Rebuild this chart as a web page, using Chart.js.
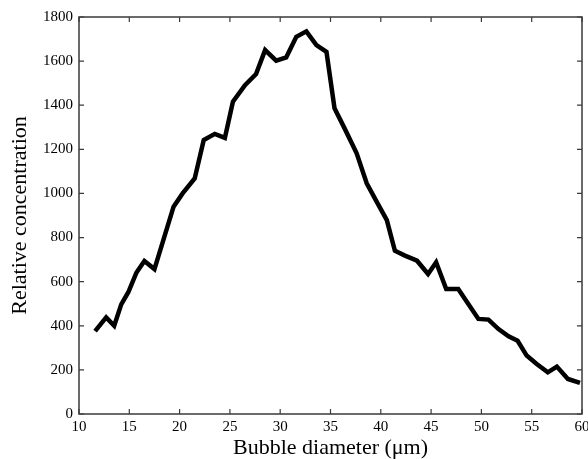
<!DOCTYPE html>
<html>
<head>
<meta charset="utf-8">
<script src="https://cdn.jsdelivr.net/npm/chart.js@4/dist/chart.umd.min.js"></script>
<style>
  html, body { margin: 0; padding: 0; background: #fff; }
  #wrap { width: 588px; height: 459px; }
</style>
</head>
<body>
<div id="wrap"><canvas id="chart" width="588" height="459"></canvas></div>
<script>
// bubble size distribution
const diameters = [11.6, 12.7, 13.5, 14.2, 14.9, 15.7, 16.5, 17.5, 19.4, 20.3,
  21.5, 22.4, 23.5, 24.5, 25.3, 26.5, 27.6, 28.5, 29.6, 30.6,
  31.6, 32.6, 33.6, 34.6, 35.4, 36.4, 37.6, 38.6, 39.6, 40.6,
  41.4, 42.4, 43.6, 44.7, 45.5, 46.5, 47.7, 48.7, 49.7, 50.7,
  51.7, 52.7, 53.6, 54.5, 55.5, 56.6, 57.5, 58.6, 59.8];
const concentration = [376, 438, 400, 497, 552, 640, 694, 657, 940, 1000,
  1068, 1242, 1270, 1252, 1416, 1491, 1541, 1650, 1602, 1617,
  1710, 1735, 1673, 1642, 1386, 1295, 1182, 1046, 962, 879,
  740, 718, 695, 635, 688, 567, 567, 499, 431, 428,
  385, 352, 332, 265, 227, 189, 215, 159, 141];

const xTicks = [10, 15, 20, 25, 30, 35, 40, 45, 50, 55, 60];
const yTicks = [0, 200, 400, 600, 800, 1000, 1200, 1400, 1600, 1800];

const serif = "'Liberation Serif', 'DejaVu Serif', serif";
const axisColor = "#3a3a3a";

// frame round the plot plus inward tick marks on all four sides
const framePlugin = {
  id: "frame",
  afterDraw(chart) {
    const { ctx, chartArea: a, scales } = chart;
    const len = 5;
    ctx.save();
    ctx.strokeStyle = axisColor;
    ctx.lineWidth = 1.5;
    ctx.strokeRect(a.left, a.top, a.right - a.left, a.bottom - a.top);
    ctx.lineWidth = 1.2;
    ctx.beginPath();
    xTicks.forEach((v) => {
      const px = scales.x.getPixelForValue(v);
      ctx.moveTo(px, a.bottom);
      ctx.lineTo(px, a.bottom - len);
      ctx.moveTo(px, a.top);
      ctx.lineTo(px, a.top + len);
    });
    yTicks.forEach((v) => {
      const py = scales.y.getPixelForValue(v);
      ctx.moveTo(a.left, py);
      ctx.lineTo(a.left + len, py);
      ctx.moveTo(a.right, py);
      ctx.lineTo(a.right - len, py);
    });
    ctx.stroke();
    ctx.restore();
  },
};

const bgPlugin = {
  id: "bg",
  beforeDraw(chart) {
    const ctx = chart.ctx;
    ctx.save();
    ctx.fillStyle = "#fff";
    ctx.fillRect(0, 0, chart.width, chart.height);
    ctx.restore();
  },
};

new Chart(document.getElementById("chart"), {
  type: "line",
  data: {
    datasets: [
      {
        data: diameters.map((d, i) => ({ x: d, y: concentration[i] })),
        borderColor: "#000",
        borderWidth: 4.5,
        borderJoinStyle: "miter",
        borderCapStyle: "butt",
        pointRadius: 0,
        tension: 0,
        fill: false,
      },
    ],
  },
  options: {
    responsive: false,
    animation: false,
    layout: { padding: { left: 0, right: 6, top: 17, bottom: 0 } },
    plugins: {
      legend: { display: false },
      tooltip: { enabled: false },
    },
    scales: {
      x: {
        type: "linear",
        min: 10,
        max: 60,
        afterBuildTicks: (scale) => { scale.ticks = xTicks.map((v) => ({ value: v })); },
        afterFit: (scale) => {
          scale.height = 45;
          scale.paddingLeft = 0;
          scale.paddingRight = 0;
        },
        grid: { display: false, drawTicks: false },
        border: { display: false },
        ticks: {
          color: "#000",
          padding: 4,
          callback: (v) => String(v),
          font: { family: serif, size: 15 },
        },
        title: {
          display: true,
          text: "Bubble diameter (μm)",
          color: "#000",
          padding: { top: 0, bottom: 0 },
          font: { family: serif, size: 22, lineHeight: 1 },
        },
      },
      y: {
        min: 0,
        max: 1800,
        afterBuildTicks: (scale) => { scale.ticks = yTicks.map((v) => ({ value: v })); },
        afterFit: (scale) => {
          scale.width = 79;
          scale.paddingTop = 0;
          scale.paddingBottom = 0;
        },
        grid: { display: false, drawTicks: false },
        border: { display: false },
        ticks: {
          color: "#000",
          padding: 6,
          callback: (v) => String(v),
          font: { family: serif, size: 15 },
        },
        title: {
          display: true,
          text: "Relative concentration",
          color: "#000",
          padding: { top: 9, bottom: 0 },
          font: { family: serif, size: 22, lineHeight: 1 },
        },
      },
    },
  },
  plugins: [bgPlugin, framePlugin],
});
</script>
</body>
</html>
